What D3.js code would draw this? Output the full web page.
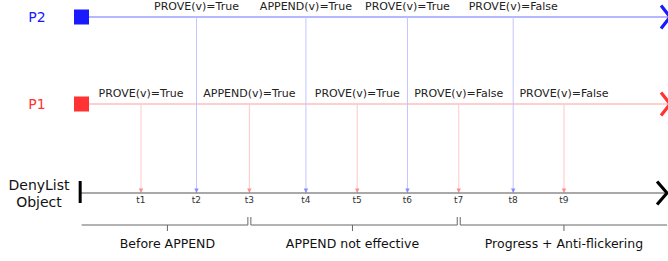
<!DOCTYPE html>
<html>
<head>
<meta charset="utf-8">
<script src="https://cdn.jsdelivr.net/npm/d3@7"></script>
<style>
  html, body { margin: 0; padding: 0; background: #fff; }
  svg { display: block; font-family: "DejaVu Sans", sans-serif; }
</style>
</head>
<body>
<svg id="chart" width="668" height="261"></svg>
<script>
// ---- data ----
const timeLabels = ["t1", "t2", "t3", "t4", "t5", "t6", "t7", "t8", "t9"];
const timeValues = [1.0, 2.05, 3.05, 4.12, 5.09, 6.04, 7.01, 8.04, 9.0];
const eventProcess = ["P1", "P2", "P1", "P2", "P1", "P2", "P1", "P2", "P1"];
const eventLabels = ["PROVE(v)=True", "PROVE(v)=True", "APPEND(v)=True", "APPEND(v)=True",
  "PROVE(v)=True", "PROVE(v)=True", "PROVE(v)=False", "PROVE(v)=False", "PROVE(v)=False"];
const processes = ["P2", "P1"];
const phaseLabels = ["Before APPEND", "APPEND not effective", "Progress + Anti-flickering"];
const phaseStart = [-0.15, 3.05, 7.01];
const phaseEnd = [3.05, 7.01, 10.95];
const phaseMid = [1.5, 5.0, 9.0];
const axisStart = -0.15, axisEnd = 10.95;

// ---- layout ----
const svg = d3.select("#chart");
const x = d3.scaleLinear().domain([0, 11]).range([88.1, 669.7]);
const y = d3.scalePoint().domain(["P2", "P1", "DenyList"]).range([17, 193]);
y.domain(); // P2 -> 17, P1 -> 105, DenyList -> 193
const yPos = { P2: 17, P1: 104, DenyList: 193 };
const style = {
  P2: { main: "#1a1aff", line: "#7070ff", vline: "#c4c4ff", head: "#8a8aff" },
  P1: { main: "#ff3333", line: "#ffa0a0", vline: "#ffc8c8", head: "#ff8c8c" }
};
const yBracket = 225;

// process lines
processes.forEach(p => {
  const yy = yPos[p], s = style[p];
  svg.append("line").attr("x1", 89).attr("x2", x(axisEnd) + 2)
    .attr("y1", yy).attr("y2", yy).attr("stroke", s.line).attr("stroke-width", 1.2);
  svg.append("rect").attr("x", 74).attr("y", yy - 7.5).attr("width", 15).attr("height", 15)
    .attr("fill", s.main);
  svg.append("text").attr("x", 37).attr("y", yy + 5).attr("text-anchor", "middle")
    .attr("font-size", 14).attr("fill", s.main).text(p);
  const xe = x(axisEnd) + 3;
  svg.append("path")
    .attr("d", `M${xe - 9},${yy - 11.5}L${xe},${yy}L${xe - 9},${yy + 11.5}`)
    .attr("fill", "none").attr("stroke", s.main).attr("stroke-width", 3.2)
    .attr("stroke-linejoin", "miter");
});

// event vertical lines + labels
timeValues.forEach((t, i) => {
  const p = eventProcess[i], s = style[p];
  const xx = x(t);
  svg.append("line").attr("x1", xx).attr("x2", xx)
    .attr("y1", yPos[p]).attr("y2", yPos.DenyList - 1)
    .attr("stroke", s.vline).attr("stroke-width", 1);
  svg.append("path")
    .attr("d", `M${xx - 2.2},${yPos.DenyList - 4.5}L${xx + 2.2},${yPos.DenyList - 4.5}L${xx},${yPos.DenyList}Z`)
    .attr("fill", s.head);
  svg.append("text").attr("x", xx).attr("y", yPos[p] - 7)
    .attr("text-anchor", "middle").attr("font-size", 11).attr("fill", "#222")
    .text(eventLabels[i]);
});

// DenyList axis
const ya = yPos.DenyList;
svg.append("line").attr("x1", x(axisStart)).attr("x2", x(axisEnd))
  .attr("y1", ya).attr("y2", ya).attr("stroke", "#555").attr("stroke-width", 1.2);
svg.append("line").attr("x1", x(axisStart)).attr("x2", x(axisStart))
  .attr("y1", ya - 12).attr("y2", ya + 10).attr("stroke", "#000").attr("stroke-width", 3);
{
  const xe = x(axisEnd);
  svg.append("path")
    .attr("d", `M${xe - 10},${ya - 11.5}L${xe},${ya}L${xe - 10},${ya + 11.5}`)
    .attr("fill", "none").attr("stroke", "#000").attr("stroke-width", 3.2);
}
const dl = svg.append("text").attr("text-anchor", "middle").attr("font-size", 14).attr("fill", "#111");
dl.append("tspan").attr("x", 39).attr("y", 190).text("DenyList");
dl.append("tspan").attr("x", 39).attr("y", 207).text("Object");

// time tick labels
svg.selectAll("text.tl").data(timeLabels).join("text").attr("class", "tl")
  .attr("x", (d, i) => x(timeValues[i])).attr("y", 203)
  .attr("text-anchor", "middle").attr("font-size", 9).attr("fill", "#333")
  .text(d => d);

// phase brackets
phaseLabels.forEach((lab, i) => {
  const a = x(phaseStart[i]) + (i === 0 ? 1.5 : 1.5);
  const b = x(phaseEnd[i]) - (i === phaseLabels.length - 1 ? 0 : 1.5);
  const m = x(phaseMid[i]);
  const g = svg.append("g").attr("stroke", "#666").attr("stroke-width", 1).attr("fill", "none");
  let d = `M${a},${yBracket}L${b},${yBracket}`;
  if (i > 0) d += `M${a},${yBracket}L${a},${yBracket - 8}`;
  if (i < phaseLabels.length - 1) d += `M${b},${yBracket}L${b},${yBracket - 8}`;
  d += `M${m},${yBracket}L${m},${yBracket + 6}`;
  g.append("path").attr("d", d);
  svg.append("text").attr("x", m).attr("y", 248).attr("text-anchor", "middle")
    .attr("font-size", 12.5).attr("fill", "#111").text(lab);
});
</script>
</body>
</html>
